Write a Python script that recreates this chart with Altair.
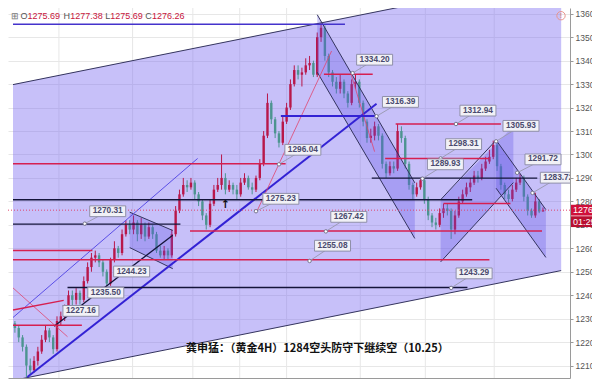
import altair as alt
import pandas as pd

# ---------------- candle data (4H gold) ----------------
closes = [1226, 1222, 1218, 1210, 1208, 1212, 1216, 1221, 1225, 1222,
          1217, 1229, 1231, 1233, 1240, 1238, 1241, 1238, 1246, 1252,
          1256, 1257, 1254, 1250, 1245, 1255, 1260, 1258, 1266, 1270,
          1268, 1271, 1266, 1270, 1265, 1269, 1266, 1259, 1257, 1259,
          1257, 1266, 1276, 1283, 1287, 1286, 1288, 1283, 1280, 1274,
          1270, 1279, 1285, 1287, 1290, 1285, 1287, 1285, 1283, 1288,
          1290, 1286, 1285, 1290, 1296, 1308, 1322, 1315, 1309, 1305,
          1314, 1320, 1330, 1336, 1334, 1335, 1338, 1339, 1334, 1350,
          1354, 1342, 1335, 1331, 1328, 1331, 1326, 1322, 1330, 1331,
          1322, 1314, 1307, 1308, 1312, 1308, 1296, 1292, 1295, 1294,
          1310, 1307, 1296, 1287, 1283, 1286, 1289, 1281, 1274, 1271,
          1270, 1275, 1277, 1276, 1268, 1274, 1280, 1283, 1286, 1288,
          1291, 1290, 1294, 1297, 1299, 1304, 1295, 1287, 1283, 1281,
          1285, 1288, 1290, 1282, 1276, 1274, 1280, 1275.69, 1276.26]
highs = [1229, 1227, 1223, 1219, 1213, 1214, 1218, 1223, 1227, 1226,
         1223, 1231, 1233, 1236, 1242, 1242, 1243, 1242, 1248, 1254,
         1258, 1259, 1258, 1255, 1251, 1256, 1263, 1261, 1268, 1272,
         1272, 1274, 1272, 1273, 1271, 1271, 1270, 1267, 1261, 1261,
         1260, 1268, 1278, 1285, 1290, 1289, 1290, 1289, 1284, 1281,
         1275, 1281, 1287, 1290, 1300, 1292, 1289, 1288, 1287, 1290,
         1292, 1291, 1288, 1291, 1298, 1310, 1326, 1323, 1316, 1310,
         1316, 1322, 1332, 1338, 1338, 1337, 1341, 1342, 1340, 1352,
         1356, 1355, 1343, 1336, 1333, 1334, 1332, 1327, 1332, 1334,
         1332, 1323, 1315, 1311, 1314, 1313, 1309, 1297, 1297, 1297,
         1313, 1312, 1308, 1297, 1288, 1288, 1290, 1290, 1282, 1275,
         1273, 1277, 1279, 1279, 1277, 1276, 1282, 1285, 1288, 1290,
         1293, 1293, 1296, 1299, 1302, 1305.9, 1305, 1296, 1288, 1285,
         1287, 1290, 1291.7, 1291, 1283, 1277, 1283.7, 1281, 1277.38]
lows = [1224, 1220, 1216, 1205, 1206, 1207, 1210, 1215, 1220, 1220,
        1215, 1216, 1227, 1229, 1232, 1235, 1236, 1236, 1237, 1245,
        1250, 1254, 1252, 1248, 1244, 1244, 1254, 1256, 1257, 1265,
        1266, 1266, 1263, 1264, 1263, 1264, 1264, 1258, 1256, 1255,
        1255, 1256, 1265, 1275, 1282, 1284, 1285, 1281, 1278, 1272,
        1268, 1269, 1278, 1284, 1285, 1283, 1284, 1283, 1281, 1282,
        1287, 1285, 1283, 1284, 1289, 1295, 1307, 1313, 1307, 1303,
        1304, 1313, 1319, 1329, 1332, 1329, 1334, 1336, 1333, 1333,
        1348, 1340, 1333, 1329, 1326, 1326, 1324, 1320, 1321, 1328,
        1320, 1312, 1305, 1305, 1306, 1306, 1294, 1290, 1291, 1292,
        1293, 1305, 1294, 1285, 1281, 1282, 1285, 1279, 1272, 1269,
        1268, 1269, 1273, 1274, 1264, 1266, 1273, 1279, 1282, 1284,
        1287, 1288, 1289, 1293, 1296, 1298, 1293, 1285, 1281, 1279,
        1280, 1284, 1287, 1280, 1274, 1273, 1273, 1275, 1275.69]
first_open = 1228
last_price = 1276.26

# ---------------- drawing objects ----------------
grid_t = [11.5, 30.75, 46.5, 58.75, 71, 90.25, 107.25, 125.25]

# big rising channel (fill between two parallel lines)
big_t = [-0.5, 142.75]
big_top = [1329.8, 1376.6]
big_bot = [1203.65, 1250.5]

# darker sub-channels: group, t, top, bottom
sub_grp = ["flag", "flag", "down1", "down1", "up2", "up2", "down2", "down2"]
sub_t = [30, 41.25, 79, 104.5, 111.25, 130.25, 125.75, 138.75]
sub_top = [1275.4, 1267.6, 1359.6, 1287.9, 1280.7, 1312.0, 1306.1, 1276.5]
sub_bot = [1260.3, 1251.3, 1335.1, 1264.2, 1254.2, 1288.0, 1285.6, 1256.1]

# slanted lines: t1, p1, t2, p2, kind
sl_t1 = [-0.5, -0.5, 30, 30, 79, 79, 111.25, 111.25, 125.75, 125.75,
         -0.5, 3.25, 10.25, 63.25, 87.75, -0.5, -0.5]
sl_p1 = [1329.8, 1203.65, 1275.4, 1260.3, 1359.6, 1335.1, 1280.7, 1254.2, 1306.1, 1285.6,
         1230.5, 1205.1, 1226.8, 1275.8, 1334.7, 1243.1, 1233.7]
sl_t2 = [142.75, 142.75, 41.25, 41.25, 104.5, 104.5, 125.75, 130.25, 138.75, 138.75,
         47.75, 94.5, 41.25, 82.75, 94, 13.75, 12.75]
sl_p2 = [1376.6, 1250.5, 1267.6, 1251.3, 1287.9, 1264.2, 1306.1, 1288.0, 1276.5, 1256.1,
         1298.3, 1321.6, 1265.6, 1344.1, 1301.2, 1222.3, 1237.8]
sl_kind = ["navy", "navy", "navy", "navy", "navy", "navy", "navy", "navy", "navy", "navy",
           "thinpurple", "blue", "black", "thinred", "thinred", "thinred", "red"]

# horizontal levels: price, t1, t2, kind
h_price = [1355.5, 1334.2, 1316.39, 1312.94, 1298.31, 1296.04, 1289.93, 1280.7,
           1279.1, 1270.31, 1267.42, 1259.1, 1255.08, 1243.29, 1235.5, 1227.16]
h_t1 = [-0.5, 80.75, 69.5, 99.5, 96.75, -0.5, 93.25, -0.5,
        112, -0.5, 45.75, -0.5, -0.5, 13.75, 12.5, -0.5]
h_t2 = [86.25, 93.5, 94.5, 127, 124, 70.75, 136.5, 119.5,
        129.5, 43.25, 137.75, 20.25, 124, 118.25, 17.75, 17.5]
h_kind = ["purple", "red", "blue", "red", "red", "red", "black", "black",
          "red", "black", "red", "red", "red", "black", "black", "red"]

# callout labels: text, box centre (t, p), anchor (t, p)
lab_text = ["1270.31", "1244.23", "1235.50", "1227.16", "1275.23", "1296.04", "1334.20",
            "1316.39", "1312.94", "1305.93", "1298.31", "1289.93", "1291.72", "1283.72",
            "1267.42", "1255.08", "1243.29"]
lab_t = [24.25, 30.5, 23.75, 17.25, 69.5, 75.25, 94, 100.75, 121, 132.25, 117.25,
         112.5, 138, 142, 87.25, 83, 120]
lab_p = [1275.8, 1250.1, 1241.1, 1233.3, 1281.1, 1302.0, 1340.4, 1322.4, 1318.7,
         1312.2, 1304.4, 1295.8, 1297.9, 1290.1, 1273.4, 1261.1, 1249.3]
anc_t = [18.25, None, None, None, 63, 69, 88.25, 94.5, 115.25, 125.75, 111.25,
         106.5, 131.25, 135.25, 81.25, 77, 114]
anc_p = [1270.5, None, None, None, 1275.8, 1295.8, 1334.7, 1316.3, 1313.0, 1305.6,
         1298.3, 1289.7, 1292.2, 1283.6, 1267.2, 1254.6, 1243.1]

caption = "龚申猛：（黄金4H）1284空头防守下继续空（10.25）"

COLORS = {"navy": "#34345e", "thinpurple": "#5a4ee6", "blue": "#3322d4", "black": "#14143a",
          "thinred": "#e0456e", "red": "#d61f50", "purple": "#4433cc"}
WIDTHS = {"navy": 1, "thinpurple": 1, "blue": 2, "black": 1.3, "thinred": 0.8, "red": 1.5,
          "purple": 1.6}

# ---------------- tables ----------------
opens = [first_open] + closes[:-1]
candles = pd.DataFrame({"t": list(range(len(closes))), "o": opens, "h": highs, "l": lows, "c": closes})
candles["col"] = ["#b8174a" if c >= o else "#4d9490" for o, c in zip(opens, closes)]

seg_rows = []
for a, b, c, d, k in zip(sl_t1, sl_p1, sl_t2, sl_p2, sl_kind):
    seg_rows.append({"t": a, "p": b, "t2": c, "p2": d, "col": COLORS[k], "w": WIDTHS[k]})
for p, a, c, k in zip(h_price, h_t1, h_t2, h_kind):
    seg_rows.append({"t": a, "p": p, "t2": c, "p2": p, "col": COLORS[k], "w": WIDTHS[k]})
segs = pd.DataFrame(seg_rows)

big = pd.DataFrame({"t": big_t, "top": big_top, "bot": big_bot})
subs = pd.DataFrame({"grp": sub_grp, "t": sub_t, "top": sub_top, "bot": sub_bot})
grid = pd.DataFrame({"t": grid_t})
labels = pd.DataFrame({"txt": lab_text, "t": lab_t, "p": lab_p, "at": anc_t, "ap": anc_p})
anchors = labels.dropna()

XS = alt.Scale(domain=[-0.5, 143.75], nice=False, zero=False)
YS = alt.Scale(domain=[1204.7, 1362.45], nice=False, zero=False)
XAX = alt.Axis(labels=False, ticks=False, grid=False, domain=True, domainColor="#9a9a9a", title=None)
YAX = alt.Axis(orient="right", values=list(range(1210, 1361, 10)), format=".1f", labelFontSize=8.5,
               labelFont="Liberation Sans", labelColor="#555555", tickColor="#9a9a9a", tickSize=3,
               domainColor="#9a9a9a", grid=True, gridColor="#e7e7e7", title=None, labelPadding=2)


def X(f):
    return alt.X(f, type="quantitative", scale=XS, axis=XAX)


def Y(f):
    return alt.Y(f, type="quantitative", scale=YS, axis=YAX)


layers = []
layers.append(alt.Chart(grid).mark_rule(color="#e7e7e7", strokeWidth=1).encode(x=X("t")))
layers.append(alt.Chart(big).mark_area(clip=True, color="#7d6ef0", opacity=0.43).encode(
    x=X("t"), y=Y("top"), y2="bot"))
layers.append(alt.Chart(candles).mark_rule(strokeWidth=1).encode(
    x=X("t"), y=Y("l"), y2="h", color=alt.Color("col:N", scale=None)))
layers.append(alt.Chart(candles).mark_bar(size=2.4).encode(
    x=X("t"), y=Y("o"), y2="c", color=alt.Color("col:N", scale=None)))
layers.append(alt.Chart(subs).mark_area(clip=True, color="#5e4fe6", opacity=0.3).encode(
    x=X("t"), y=Y("top"), y2="bot", detail="grp:N"))
layers.append(alt.Chart(segs).mark_rule(clip=True).encode(
    x=X("t"), y=Y("p"), x2="t2", y2="p2", color=alt.Color("col:N", scale=None),
    strokeWidth=alt.StrokeWidth("w:Q", scale=None)))
layers.append(alt.Chart(pd.DataFrame({"p": [last_price]})).mark_rule(
    color="#e0456e", strokeWidth=1, strokeDash=[1, 2]).encode(y=Y("p")))
# callouts
layers.append(alt.Chart(anchors).mark_rule(clip=True, color="#9c9cb4", strokeWidth=1).encode(
    x=X("at"), y=Y("ap"), x2="t", y2="p"))
layers.append(alt.Chart(anchors).mark_point(clip=True, shape="circle", size=12, filled=True,
                                            fill="#ffffff", stroke="#77778f", strokeWidth=1,
                                            opacity=1).encode(x=X("at"), y=Y("ap")))
layers.append(alt.Chart(labels).mark_point(clip=True, shape="M-1,-0.3H1V0.3H-1Z", size=1296,
                                           filled=True, fill="#f1f1f6", stroke="#8f8fa8",
                                           strokeWidth=1, opacity=1).encode(x=X("t"), y=Y("p")))
layers.append(alt.Chart(labels).mark_text(clip=True, font="Liberation Sans", fontSize=8.3,
                                          fontWeight="bold", color="#4a4a6e").encode(
    x=X("t"), y=Y("p"), text="txt:N"))
# arrow marker
layers.append(alt.Chart(pd.DataFrame({"t": [55], "p": [1278.6]})).mark_text(
    text="↑", font="DejaVu Sans", fontSize=11, fontWeight="bold", color="#111111").encode(
    x=X("t"), y=Y("p")))

one = alt.Data(values=[{}])
hdr = [("⊞", 3, "#777777"), ("O", 12.6, "#555555"), ("1275.69", 19.5, "#c8143c"),
       ("H", 55.5, "#555555"), ("1277.38", 62.3, "#c8143c"), ("L", 97.3, "#555555"),
       ("1275.69", 102.2, "#c8143c"), ("C", 137.2, "#555555"), ("1276.26", 144, "#c8143c")]
for txt, px, col in hdr:
    layers.append(alt.Chart(one).mark_text(font="Liberation Sans", fontSize=9, align="left",
                                           baseline="middle", color=col).encode(
        x=alt.value(px), y=alt.value(7.5), text=alt.value(txt)))

layers.append(alt.Chart(one).mark_text(font="Noto Sans CJK SC", fontSize=11, fontWeight="bold",
                                       align="left", baseline="middle", color="#111111").encode(
    x=alt.value(178), y=alt.value(341), text=alt.value(caption)))

# info icon top-right
layers.append(alt.Chart(one).mark_point(shape="circle", size=70, stroke="#e8958f", strokeWidth=1,
                                        filled=False, opacity=1).encode(
    x=alt.value(553), y=alt.value(7.7)))
layers.append(alt.Chart(one).mark_text(fontSize=7, color="#e8958f", fontWeight="bold").encode(
    x=alt.value(553), y=alt.value(7.9), text=alt.value("!")))

# price tag + countdown on the axis
tag = pd.DataFrame({"p": [last_price]})
layers.append(alt.Chart(tag).mark_point(shape="M-1,-0.45H1V0.45H-1Z", size=576, filled=True,
                                        color="#d0103a", opacity=1).encode(
    x=alt.value(575), y=Y("p")))
layers.append(alt.Chart(tag).mark_text(font="Liberation Sans", fontSize=9, align="left",
                                       color="#ffffff").encode(
    x=alt.value(565), y=Y("p"), text=alt.value("1276.26")))
layers.append(alt.Chart(tag).mark_point(shape="M-1,-0.45H1V0.45H-1Z", size=576, filled=True,
                                        color="#b80f30", opacity=1, yOffset=11.5).encode(
    x=alt.value(575), y=Y("p")))
layers.append(alt.Chart(tag).mark_text(font="Liberation Sans", fontSize=9, align="left",
                                       color="#ffffff", yOffset=11.5).encode(
    x=alt.value(565), y=Y("p"), text=alt.value("01:29:44")))

chart = alt.layer(*layers).properties(
    width=562, height=370,
    autosize=alt.AutoSizeParams(type="none"),
    padding={"left": 0, "top": 0, "right": 22, "bottom": 2},
    background="#ffffff",
).configure_view(stroke=None)

chart.save("out.html", embed_options={"renderer": "svg", "actions": False})
